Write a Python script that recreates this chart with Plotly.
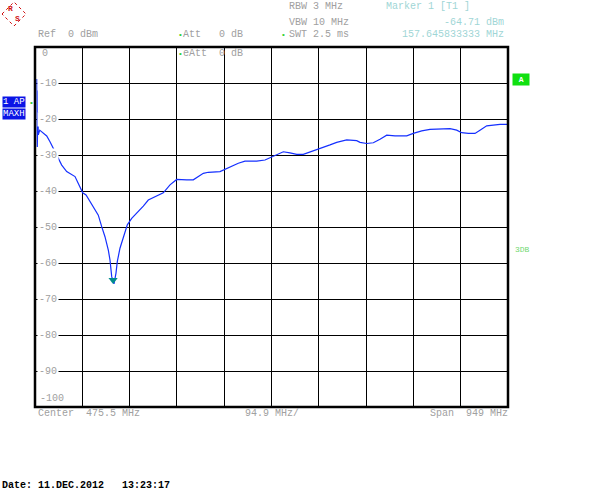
import plotly.graph_objects as go

# ---- data ----
freq_mhz = [5.0, 5.6, 6.8, 7.6, 10.5, 17.7, 24.5, 31.1, 41.1, 47.7, 54.6, 64.6, 74.6, 81.3, 87.9,
            96.7, 103.4, 111.3, 116.8, 128.0, 134.8, 141.4, 148.1, 151.5, 154.9, 159.5, 163.5,
            166.1, 171.5, 178.2, 186.2, 195.0, 205.1, 218.3, 228.3, 240.0, 258.4, 271.9, 285.3,
            305.4, 318.6, 338.7, 348.7, 372.2, 392.2, 408.9, 422.3, 445.8, 462.5, 479.1, 499.2,
            512.6, 526.1, 539.3, 559.4, 572.8, 592.9, 606.3, 626.4, 646.5, 653.1, 666.5, 679.8,
            693.2, 706.7, 723.3, 746.8, 760.0, 776.9, 793.5, 813.6, 833.7, 847.1, 857.1, 870.4,
            883.8, 893.8, 907.3, 920.5, 934.0, 950.0]
level_dbm = [-8.9, -27.8, -18.3, -24.4, -23.1, -23.8, -24.7, -26.3, -29.1, -30.5, -32.8, -34.6,
             -35.3, -36.0, -37.9, -40.5, -41.1, -43.0, -44.4, -46.7, -49.9, -52.7, -56.4, -59.2,
             -63.8, -65.8, -62.8, -59.6, -55.9, -52.7, -49.4, -47.6, -46.2, -44.2, -42.5, -41.8,
             -40.5, -38.3, -36.8, -36.9, -36.9, -35.1, -34.8, -34.6, -33.3, -32.3, -31.7, -31.7,
             -31.4, -30.3, -29.1, -29.4, -29.8, -29.8, -28.9, -28.1, -27.2, -26.5, -25.8, -26.0,
             -26.5, -26.8, -26.6, -25.6, -24.5, -24.7, -24.7, -24.0, -23.3, -22.9, -22.7, -22.7,
             -23.1, -23.8, -24.0, -24.0, -23.1, -21.9, -21.7, -21.5, -21.5]
marker_freq = [157.645833333]
marker_level = [-64.71]
y_tick_values = [-10, -20, -30, -40, -50, -60, -70, -80, -90]
x_start, x_stop, x_div = 1.0, 950.0, 94.9

# ---- geometry helpers (pixel -> paper) ----
L, R, T, B = 35, 508, 47, 407
W, H = 605, 502
def px(x):
    return (x - L) / (R - L)
def py(y):
    return (B - y) / (B - T)

GRAY = "#a0a0a0"
TEAL = "#9fd6d6"
MONO = "Liberation Mono"

fig = go.Figure()
fig.add_trace(go.Scatter(x=freq_mhz, y=level_dbm, mode="lines",
                         line=dict(color="#1530ff", width=1.2), hoverinfo="skip"))
fig.add_trace(go.Scatter(x=marker_freq, y=marker_level, mode="markers",
                         marker=dict(symbol="triangle-down", color="#008c8c", size=8),
                         hoverinfo="skip"))

fig.update_layout(
    width=W, height=H, showlegend=False,
    margin=dict(l=L, r=W - R, t=T, b=H - B, pad=0),
    paper_bgcolor="white", plot_bgcolor="white",
    xaxis=dict(range=[x_start, x_stop], tick0=x_start, dtick=x_div, showgrid=True,
               gridcolor="black", gridwidth=1, showticklabels=False, ticks="",
               zeroline=False, showline=False),
    yaxis=dict(range=[-100, 0], tick0=0, dtick=10, showgrid=True, gridcolor="black",
               gridwidth=1, showticklabels=False, ticks="", zeroline=False, showline=False),
)

shapes = [dict(type="rect", xref="paper", yref="paper", x0=0, x1=1, y0=0, y1=1,
               line=dict(color="black", width=2.5), layer="above")]

# R&S logo diamond
cx, cy, r = 14, 14, 12
shapes.append(dict(type="path", xref="paper", yref="paper",
                   path=f"M {px(cx-r)},{py(cy)} L {px(cx)},{py(cy-r)} L {px(cx+r)},{py(cy)} L {px(cx)},{py(cy+r)} Z",
                   line=dict(color="#d01010", width=1, dash="dot")))
fig.update_layout(shapes=shapes)

ann = []
def text(x, y, s, color=GRAY, size=10, anchor="left", **kw):
    ann.append(dict(x=px(x), y=py(y), xref="paper", yref="paper", text=s, showarrow=False,
                    xanchor=anchor, yanchor="middle", font=dict(family=MONO, size=size, color=color),
                    **kw))

# logo letters
text(10, 9, "<b>R</b>", color="#d01010", size=8, anchor="center")
text(17, 18, "<b>S</b>", color="#d01010", size=8, anchor="center")

# header
text(36, 35, "Ref  0 dBm")
text(176, 35, "•", color="#30d030", size=8)
text(181, 35, "Att   0 dB")
text(176, 53, "•", color="#30d030", size=8)
text(181, 53, "eAtt  0 dB")
text(287, 7, "RBW 3 MHz")
text(287, 22, "VBW 10 MHz")
text(279, 35, "•", color="#30d030", size=8)
text(287, 35, "SWT 2.5 ms")
text(384, 7, "Marker 1 [T1 ]", color=TEAL)
text(506, 22, "-64.71 dBm", color=TEAL, anchor="right")
text(506, 35, "157.645833333 MHz", color=TEAL, anchor="right")

# y labels inside the plot
for v in y_tick_values:
    ann.append(dict(x=px(37), y=v, xref="paper", yref="y", text=str(v), showarrow=False,
                    xanchor="left", yanchor="middle", bgcolor="white", borderpad=1,
                    font=dict(family=MONO, size=10, color=GRAY)))
text(40, 53, "0")
text(38, 398, "-100")

# left trace indicators
text(2, 102, "1 AP", color="white", size=9, bgcolor="#0a14e6", borderpad=0)
text(2, 114, "MAXH", color="white", size=9, bgcolor="#0a14e6", borderpad=0)
text(27, 102, "•", color="#30d030", size=8)

# right side
text(512, 79, "<b> A </b>", color="white", size=8, bgcolor="#10e010", borderpad=1)
text(513, 249, "3DB", color="#70d870", size=8)

# bottom
text(36, 413, "Center  475.5 MHz")
text(243, 413, "94.9 MHz/")
text(428, 413, "Span  949 MHz")
text(0, 485, "<b>Date: 11.DEC.2012   13:23:17</b>", color="black", size=10)

fig.update_layout(annotations=ann)
fig.write_html("out.html", config={"displayModeBar": False, "staticPlot": True},
               post_script="document.body.style.margin='0';")
